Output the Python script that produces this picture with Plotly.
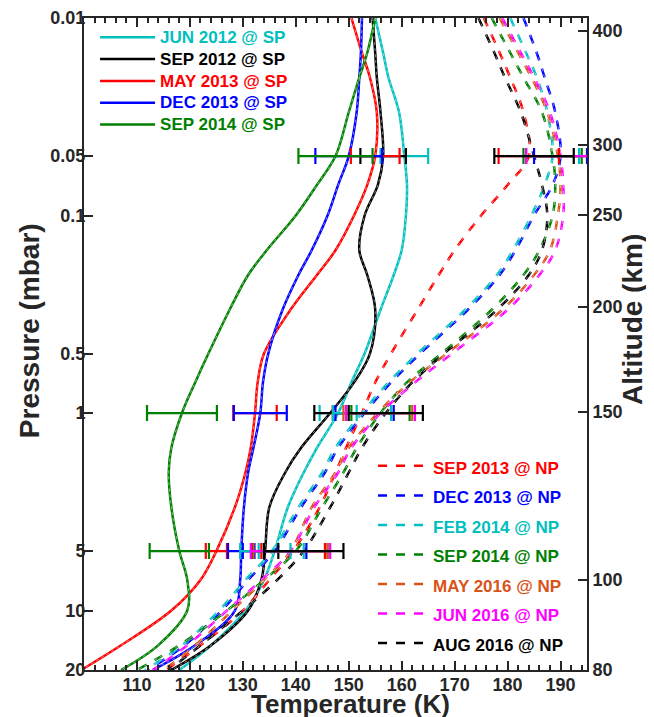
import math
import plotly.graph_objects as go

# ---------------- data ----------------
pressure = [0.01, 0.015, 0.02, 0.03, 0.05, 0.07, 0.1, 0.15, 0.2, 0.3, 0.5, 0.7,
            1, 1.5, 2, 3, 5, 7, 10, 15, 20]

# South pole (solid)
sp_jun2012 = [155, 156.5, 157.5, 159.5, 160.5, 161, 160.8, 160, 158.5, 156, 153, 150.5,
              148, 144, 141.5, 138.5, 136, 134, 130.5, 124, 118]
sp_sep2012 = [154.5, 155, 155.3, 156, 156.5, 155.5, 153, 152, 153.5, 155, 154, 151,
              146.5, 141, 138, 135, 134.2, 133.5, 131, 124, 116.5]
sp_may2013 = [150.5, 152.5, 154, 155.3, 155, 153.5, 151, 147.5, 144, 139, 134, 132.8,
              132.3, 131.5, 130.5, 128.5, 125, 122, 116.5, 107, 99.5]
sp_dec2013 = [152.5, 152.3, 152, 151.5, 150, 148, 146, 143, 140.5, 137.5, 134.8, 133.8,
              133.3, 132, 131, 130.2, 129.7, 129.5, 128.5, 121, 113]
sp_sep2014 = [155, 153.5, 152, 150, 147.5, 144, 140, 134.5, 131, 127.5, 123.5, 121,
              118.5, 116.5, 116, 116.5, 118, 119.5, 119.5, 114, 107]

# North pole (dashed)
np_sep2013 = [175.5, 178.5, 180.5, 183, 184, 180, 175, 170, 167, 163, 158, 155,
              152.5, 149.5, 147.5, 144.5, 139.5, 135, 130, 122, 115.5]
np_dec2013 = [183, 185.5, 187, 189, 190, 188.5, 185, 181.5, 178.5, 172.5, 163.5, 158,
              153, 148, 145.5, 141, 136, 131, 126, 119, 112]
np_feb2014 = [180.5, 183.5, 185.5, 187.5, 188.5, 187, 184.5, 181, 178, 172, 163, 157.5,
              152.5, 147.5, 145, 140.5, 135.5, 130.5, 125.5, 118.5, 111.5]
np_sep2014 = [177, 180.5, 183, 186.5, 188.5, 189, 188.5, 186, 183, 177, 167.5, 161,
              156, 151.5, 149, 145, 140, 134, 127, 118, 110]
np_may2016 = [178.5, 182, 184.5, 187.5, 189.5, 190, 189.5, 188, 185, 179, 168.5, 161.5,
              155.5, 150, 147.5, 143, 139, 134, 128, 121, 115]
np_jun2016 = [179, 182.5, 185, 188, 190, 190.5, 190.5, 189, 186, 180, 169.5, 162.5,
              156, 150.5, 148, 143.5, 139, 133.5, 127, 119.5, 113]
np_aug2016 = [174.5, 177.5, 179.5, 182.5, 185, 186.5, 187.5, 186.5, 184, 178, 168, 162,
              157, 152.5, 150, 146.5, 141.5, 136.5, 130, 122, 116]

# error-bar pressure levels and half widths (K)
err_levels = [0.05, 1, 5]
sp_err = {
    "jun2012": [4.5, 3.5, 3.0],
    "sep2012": [4.3, 3.0, 2.5],
    "may2013": [4.6, 4.1, 2.0],
    "dec2013": [6.3, 5.0, 2.5],
    "sep2014": [7.0, 6.6, 5.6],
}
np_err = {
    "sep2013": [5.7, 5.5, 6.0],
    "dec2013": [5.0, 5.5, 6.0],
    "feb2014": [5.0, 5.5, 6.0],
    "sep2014": [5.5, 5.5, 6.0],
    "may2016": [6.0, 6.5, 7.0],
    "jun2016": [6.5, 6.5, 7.5],
    "aug2016": [7.5, 7.0, 7.5],
}

sp_labels = ["JUN 2012 @ SP", "SEP 2012 @ SP", "MAY 2013 @ SP", "DEC 2013 @ SP", "SEP 2014 @ SP"]
np_labels = ["SEP 2013 @ NP", "DEC 2013 @ NP", "FEB 2014 @ NP", "SEP 2014 @ NP",
             "MAY 2016 @ NP", "JUN 2016 @ NP", "AUG 2016 @ NP"]

x_ticks = [110, 120, 130, 140, 150, 160, 170, 180, 190]
p_ticks = [0.01, 0.05, 0.1, 0.5, 1, 5, 10, 20]
p_tick_text = ["0.01", "0.05", "0.1", "0.5", "1", "5", "10", "20"]
alt_labels = ["400", "300", "250", "200", "150", "100", "80"]
alt_pressure = [0.0116, 0.044, 0.099, 0.29, 0.99, 7.0, 20]

# ---------------- styling ----------------
CYAN, BLACK, RED, BLUE, GREEN, ORANGE, MAGENTA = (
    "#00BFBF", "#000000", "#FF0000", "#0000FF", "#008000", "#D95319", "#FF00FF")
AX = "#262626"
FONT = "Liberation Sans, Arial, Helvetica, sans-serif"

sp_series = [
    (sp_labels[0], sp_jun2012, CYAN, sp_err["jun2012"]),
    (sp_labels[1], sp_sep2012, BLACK, sp_err["sep2012"]),
    (sp_labels[2], sp_may2013, RED, sp_err["may2013"]),
    (sp_labels[3], sp_dec2013, BLUE, sp_err["dec2013"]),
    (sp_labels[4], sp_sep2014, GREEN, sp_err["sep2014"]),
]
np_series = [
    (np_labels[0], np_sep2013, RED, np_err["sep2013"]),
    (np_labels[1], np_dec2013, BLUE, np_err["dec2013"]),
    (np_labels[2], np_feb2014, CYAN, np_err["feb2014"]),
    (np_labels[3], np_sep2014, GREEN, np_err["sep2014"]),
    (np_labels[4], np_may2016, ORANGE, np_err["may2016"]),
    (np_labels[5], np_jun2016, MAGENTA, np_err["jun2016"]),
    (np_labels[6], np_aug2016, BLACK, np_err["aug2016"]),
]

fig = go.Figure()

for name, temps, color, _ in sp_series:
    fig.add_trace(go.Scatter(
        x=temps, y=pressure, mode="lines",
        line=dict(color=color, width=2.5, shape="spline", smoothing=1.0),
        name=f'<span style="font-size:17px;color:{color}">{name}</span>',
        legend="legend", hoverinfo="skip"))

for name, temps, color, _ in np_series:
    fig.add_trace(go.Scatter(
        x=temps, y=pressure, mode="lines",
        line=dict(color=color, width=2.5, dash="dash", shape="spline", smoothing=1.0),
        name=f'<span style="font-size:17px;color:{color}">{name}</span>',
        legend="legend2", hoverinfo="skip"))

# thin dotted overlay (fit curve look)
for series in (sp_series, np_series):
    for name, temps, color, _ in series:
        fig.add_trace(go.Scatter(
            x=temps, y=pressure, mode="lines",
            line=dict(color="rgba(255,255,255,0.55)", width=0.9, dash="dot",
                      shape="spline", smoothing=1.0),
            showlegend=False, hoverinfo="skip"))

# error bars
for series in (sp_series, np_series):
    for name, temps, color, half in series:
        centers = [temps[pressure.index(p)] for p in err_levels]
        fig.add_trace(go.Scatter(
            x=centers, y=err_levels, mode="markers",
            marker=dict(size=1, color=color, opacity=0),
            error_x=dict(type="data", array=half, symmetric=True,
                         color=color, thickness=2.2, width=8),
            showlegend=False, hoverinfo="skip"))

# invisible trace to anchor the altitude axis
fig.add_trace(go.Scatter(x=[150], y=[1], yaxis="y2", mode="markers",
                         marker=dict(opacity=0), showlegend=False, hoverinfo="skip"))

yrange = [math.log10(20), math.log10(0.01)]
TICKFONT = dict(size=18, weight="bold", color=AX, family=FONT)
TITLEFONT = dict(size=28, weight="bold", color=AX, family=FONT)
XTITLEFONT = dict(size=26, weight="bold", color=AX, family=FONT)

# the page body adds an 8px offset; the figure fills the window to its bottom-right edge
fig.update_layout(
    width=646, height=709,
    margin=dict(l=76, r=67, t=10, b=47, autoexpand=False),
    plot_bgcolor="white", paper_bgcolor="white",
    font=dict(family=FONT, color=AX),
    xaxis=dict(
        range=[100, 195], tickvals=x_ticks, ticks="inside", ticklen=9, tickwidth=1.6,
        tickcolor=AX, showline=True, linewidth=2, linecolor=AX, mirror="ticks",
        showgrid=False, zeroline=False, automargin=False,
        tickfont=TICKFONT, ticklabelstandoff=-3,
        minor=dict(dtick=2, tick0=100, ticks="inside", ticklen=5, tickwidth=1.6,
                   tickcolor=AX, showgrid=False),
    ),
    yaxis=dict(
        type="log", range=yrange, tickvals=p_ticks, ticktext=p_tick_text,
        ticks="inside", ticklen=9, tickwidth=1.6, tickcolor=AX,
        showline=True, linewidth=2, linecolor=AX, mirror=False,
        showgrid=False, zeroline=False, automargin=False,
        tickfont=TICKFONT, ticklabelstandoff=-7,
    ),
    yaxis2=dict(
        type="log", range=yrange, overlaying="y", side="right",
        tickvals=alt_pressure, ticktext=alt_labels,
        ticks="inside", ticklen=9, tickwidth=1.6, tickcolor=AX,
        showline=True, linewidth=2, linecolor=AX,
        showgrid=False, zeroline=False, automargin=False,
        tickfont=TICKFONT,
    ),
    legend=dict(
        x=0.022, y=0.995, xanchor="left", yanchor="top",
        bgcolor="rgba(0,0,0,0)", borderwidth=0,
        font=dict(size=14.5, weight="bold", family=FONT),
        itemwidth=55, tracegroupgap=0,
    ),
    legend2=dict(
        x=0.5746, y=0.3434, xanchor="left", yanchor="top",
        bgcolor="rgba(0,0,0,0)", borderwidth=0,
        font=dict(size=20.4, weight="bold", family=FONT),
        itemwidth=50, tracegroupgap=0,
    ),
    annotations=[
        dict(text="Temperature (K)", xref="paper", yref="paper", x=0.529, y=-0.0515,
             xanchor="center", yanchor="middle", showarrow=False, font=XTITLEFONT),
        dict(text="Pressure (mbar)", xref="paper", yref="paper", x=-0.107, y=0.52,
             xanchor="center", yanchor="middle", showarrow=False, textangle=-90,
             font=TITLEFONT),
        dict(text="Altitude (km)", xref="paper", yref="paper", x=1.0915, y=0.537,
             xanchor="center", yanchor="middle", showarrow=False, textangle=-90,
             font=TITLEFONT),
    ],
)

fig.write_html("out.html")
